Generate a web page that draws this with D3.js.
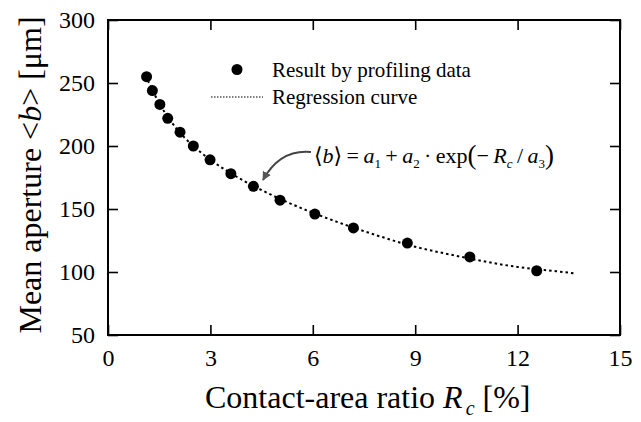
<!doctype html>
<html lang="en">
<head>
  <meta charset="utf-8">
  <title>Mean aperture vs contact-area ratio</title>
  <style>
    body { margin: 0; background: #fff; }
    svg text { font-family: 'Liberation Serif', 'Tinos', 'DejaVu Serif', serif; fill: #000; }
  </style>
</head>
<body>
  <script src="https://cdn.jsdelivr.net/npm/d3@7"></script>
  <script>
    // profiling data
    var rcValues = [1.13, 1.30, 1.52, 1.75, 2.11, 2.50, 2.99, 3.60, 4.26, 5.04, 6.06, 7.19, 8.77, 10.6, 12.56]
    var apertureValues = [255, 244, 233, 222, 211, 200, 189, 178, 168, 157, 146, 135, 123, 112, 101]

    // regression curve
    var curveRc = [1.1, 1.5, 2, 2.5, 3, 3.5, 4, 4.5, 5, 6, 7, 8, 9, 10, 11, 12, 13, 13.65]
    var curveB = [256, 234, 214, 200, 189, 180, 172, 165, 158.5, 147, 137, 128, 120, 114, 108.5, 104, 101, 99]

    var xTicks = [0, 3, 6, 9, 12, 15]
    var yTicks = [50, 100, 150, 200, 250, 300]

    var serif = "'Liberation Serif', 'Tinos', 'DejaVu Serif', serif"

    var margin = { left: 108, right: 21, top: 20, bottom: 87 }
    var W = 641, H = 422
    var width = W - margin.left - margin.right
    var height = H - margin.top - margin.bottom

    var svg = d3.select('body').append('svg')
      .attr('width', W)
      .attr('height', H)

    var g = svg.append('g')
      .attr('transform', 'translate(' + margin.left + ',' + margin.top + ')')

    var x = d3.scaleLinear().domain([0, 15]).range([0, width])
    var y = d3.scaleLinear().domain([50, 300]).range([height, 0])

    var tickLen = 10

    // axes, ticks pointing inward on all sides
    var xAxis = d3.axisBottom(x).tickValues(xTicks).tickSizeInner(-tickLen).tickSizeOuter(0).tickPadding(14)
    var yAxis = d3.axisLeft(y).tickValues(yTicks).tickSizeInner(-tickLen).tickSizeOuter(0).tickPadding(13)
    var xTop = d3.axisTop(x).tickValues(xTicks).tickSizeInner(-tickLen).tickSizeOuter(0).tickFormat('')
    var yRight = d3.axisRight(y).tickValues(yTicks).tickSizeInner(-tickLen).tickSizeOuter(0).tickFormat('')

    g.append('g').attr('class', 'x axis')
      .attr('transform', 'translate(0,' + height + ')')
      .call(xAxis)
    g.append('g').attr('class', 'y axis').call(yAxis)
    g.append('g').attr('class', 'axis').call(xTop)
    g.append('g').attr('class', 'axis')
      .attr('transform', 'translate(' + width + ',0)')
      .call(yRight)

    g.selectAll('.axis').attr('font-family', serif).attr('font-size', 24)
    g.selectAll('.axis path').remove()
    g.selectAll('.axis line').attr('stroke', '#000').attr('stroke-width', 1.6)
    g.selectAll('.axis text').attr('fill', '#000')

    // frame
    g.append('rect')
      .attr('width', width)
      .attr('height', height)
      .attr('fill', 'none')
      .attr('stroke', '#000')
      .attr('stroke-width', 2)

    // regression curve
    var line = d3.line()
      .x(function(d) { return x(d[0]) })
      .y(function(d) { return y(d[1]) })
      .curve(d3.curveMonotoneX)

    g.append('path')
      .datum(d3.zip(curveRc, curveB))
      .attr('d', line)
      .attr('fill', 'none')
      .attr('stroke', '#000')
      .attr('stroke-width', 2)
      .attr('stroke-dasharray', '2.5 3')

    // data points
    g.selectAll('.mark')
      .data(d3.zip(rcValues, apertureValues))
      .enter().append('circle')
      .attr('class', 'mark')
      .attr('cx', function(d) { return x(d[0]) })
      .attr('cy', function(d) { return y(d[1]) })
      .attr('r', 5.5)
      .attr('fill', '#000')

    // legend
    svg.append('circle').attr('cx', 237).attr('cy', 69.5).attr('r', 5.5).attr('fill', '#000')
    svg.append('text').attr('x', 272).attr('y', 77).attr('font-size', 21).text('Result by profiling data')
    svg.append('line')
      .attr('x1', 211).attr('x2', 263).attr('y1', 97).attr('y2', 97)
      .attr('stroke', '#000').attr('stroke-width', 1.2).attr('stroke-dasharray', '1.5 1.5')
    svg.append('text').attr('x', 272).attr('y', 104).attr('font-size', 21).text('Regression curve')

    // equation
    var eq = svg.append('text').attr('x', 314).attr('y', 163).attr('font-size', 22)
    eq.append('tspan').text('\u27E8')
    eq.append('tspan').style('font-style', 'italic').text('b')
    eq.append('tspan').text('\u27E9\u2009=\u2009')
    eq.append('tspan').style('font-style', 'italic').text('a')
    eq.append('tspan').attr('dy', 5).attr('font-size', 13).text('1')
    eq.append('tspan').attr('dy', -5).text('\u2009+\u2009')
    eq.append('tspan').style('font-style', 'italic').text('a')
    eq.append('tspan').attr('dy', 5).attr('font-size', 13).text('2')
    eq.append('tspan').attr('dy', -5).text('\u2009\u00B7\u2009exp')
    eq.append('tspan').attr('font-size', 27).attr('dy', 1).text('(')
    eq.append('tspan').attr('dy', -1).text('\u2212\u2009')
    eq.append('tspan').style('font-style', 'italic').text('R')
    eq.append('tspan').attr('dy', 5).attr('font-size', 13).style('font-style', 'italic').text('c')
    eq.append('tspan').attr('dy', -5).text('\u2009/\u2009')
    eq.append('tspan').style('font-style', 'italic').text('a')
    eq.append('tspan').attr('dy', 5).attr('font-size', 13).text('3')
    eq.append('tspan').attr('dy', -4).attr('font-size', 27).text(')')

    // arrow to the curve
    svg.append('defs').append('marker')
      .attr('id', 'head')
      .attr('viewBox', '0 0 10 10')
      .attr('refX', 9).attr('refY', 5)
      .attr('markerWidth', 4.5).attr('markerHeight', 4.5)
      .attr('orient', 'auto')
      .append('path').attr('d', 'M0,0L10,5L0,10z').attr('fill', '#555')
    svg.append('path')
      .attr('d', 'M311,152 Q280,149 263,180')
      .attr('fill', 'none')
      .attr('stroke', '#444')
      .attr('stroke-width', 2)
      .attr('marker-end', 'url(#head)')

    // axis titles
    var xl = svg.append('text')
      .attr('x', 205)
      .attr('y', 408)
      .attr('font-size', 32)
    xl.append('tspan').text('Contact-area ratio ')
    xl.append('tspan').style('font-style', 'italic').text('R')
    xl.append('tspan').attr('dx', 3).attr('dy', 7).attr('font-size', 20).style('font-style', 'italic').text('c')
    xl.append('tspan').attr('dy', -7).text(' [%]')

    var yl = svg.append('text')
      .attr('transform', 'translate(41,175) rotate(-90)')
      .attr('text-anchor', 'middle')
      .attr('font-size', 32)
    yl.append('tspan').text('Mean aperture <')
    yl.append('tspan').style('font-style', 'italic').text('b')
    yl.append('tspan').text('> [\u03BCm]')
  </script>
</body>
</html>
